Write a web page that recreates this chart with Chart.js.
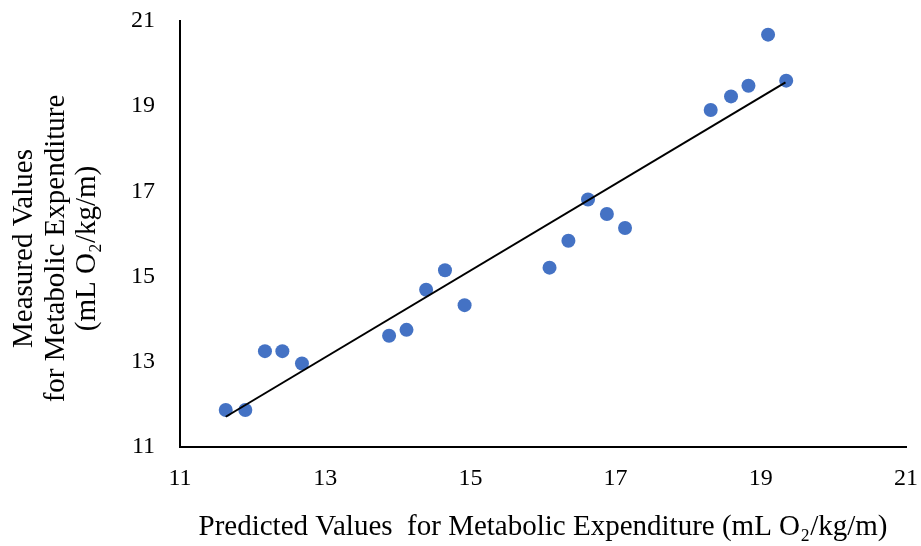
<!DOCTYPE html>
<html>
<head>
<meta charset="utf-8">
<script src="https://cdn.jsdelivr.net/npm/chart.js@4/dist/chart.umd.min.js"></script>
<style>
  html, body { margin: 0; padding: 0; background: #fff; }
  #wrap { width: 921px; height: 546px; position: relative; }
</style>
</head>
<body>
<div id="wrap"><canvas id="c" width="921" height="546"></canvas></div>
<script>
// Predicted (x) and measured (y) values
const predicted = [11.63, 11.90, 12.17, 12.41, 12.68, 13.88, 14.12, 14.39, 14.65, 14.92,
                   16.09, 16.35, 16.62, 16.88, 17.13, 18.31, 18.59, 18.83, 19.10, 19.35];
const measured  = [11.87, 11.87, 13.25, 13.25, 12.96, 13.61, 13.75, 14.69, 15.15, 14.33,
                   15.21, 15.84, 16.81, 16.47, 16.14, 18.91, 19.23, 19.48, 20.68, 19.60];
// Linear trendline end points
const trendX = [11.63, 19.34];
const trendY = [11.71, 19.56];
const tickValues = [11, 13, 15, 17, 19, 21];
const xTitle = 'Predicted Values  for Metabolic Expenditure (mL O\u2082/kg/m)';
const yTitle = ['Measured Values    ', 'for Metabolic Expenditure    ', '(mL O\u2082/kg/m)    '];

const pts = predicted.map((x, i) => ({ x: x, y: measured[i] }));
const trend = trendX.map((x, i) => ({ x: x, y: trendY[i] }));
const FONT = 'Liberation Serif, Times New Roman, serif';

new Chart(document.getElementById('c'), {
  type: 'scatter',
  data: {
    datasets: [
      {
        type: 'line',
        data: trend,
        borderColor: '#000000',
        borderWidth: 2,
        pointRadius: 0,
        fill: false,
        order: 0
      },
      {
        data: pts,
        backgroundColor: '#4472C4',
        borderColor: '#4472C4',
        borderWidth: 0,
        pointRadius: 7,
        order: 1
      }
    ]
  },
  options: {
    responsive: false,
    animation: false,
    devicePixelRatio: 1,
    layout: { padding: { top: 21, right: 15, left: 0, bottom: 0 } },
    plugins: { legend: { display: false }, tooltip: { enabled: false } },
    scales: {
      x: {
        type: 'linear',
        min: 11, max: 21,
        afterBuildTicks: s => { s.ticks = tickValues.map(v => ({ value: v })); },
        afterFit: s => { s.height = 99; s.paddingLeft = 0; s.paddingRight = 0; },
        grid: { display: false, drawTicks: false },
        border: { display: true, color: '#000000', width: 2 },
        ticks: { color: '#000000', padding: 17, font: { family: FONT, size: 24 } },
        title: {
          display: true, text: xTitle, color: '#000000',
          font: { family: FONT, size: 29, lineHeight: 1.086 },
          padding: { top: 0, bottom: 3 }
        }
      },
      y: {
        type: 'linear',
        min: 11, max: 21,
        afterBuildTicks: s => { s.ticks = tickValues.map(v => ({ value: v })); },
        afterFit: s => { s.width = 180; s.paddingTop = 0; s.paddingBottom = 0; },
        grid: { display: false, drawTicks: false },
        border: { display: true, color: '#000000', width: 2 },
        ticks: { color: '#000000', padding: 25, font: { family: FONT, size: 24 } },
        title: {
          display: true, text: yTitle, color: '#000000',
          font: { family: FONT, size: 29, lineHeight: 1.086 },
          padding: { top: 9, bottom: 0 }
        }
      }
    }
  }
});
</script>
</body>
</html>
